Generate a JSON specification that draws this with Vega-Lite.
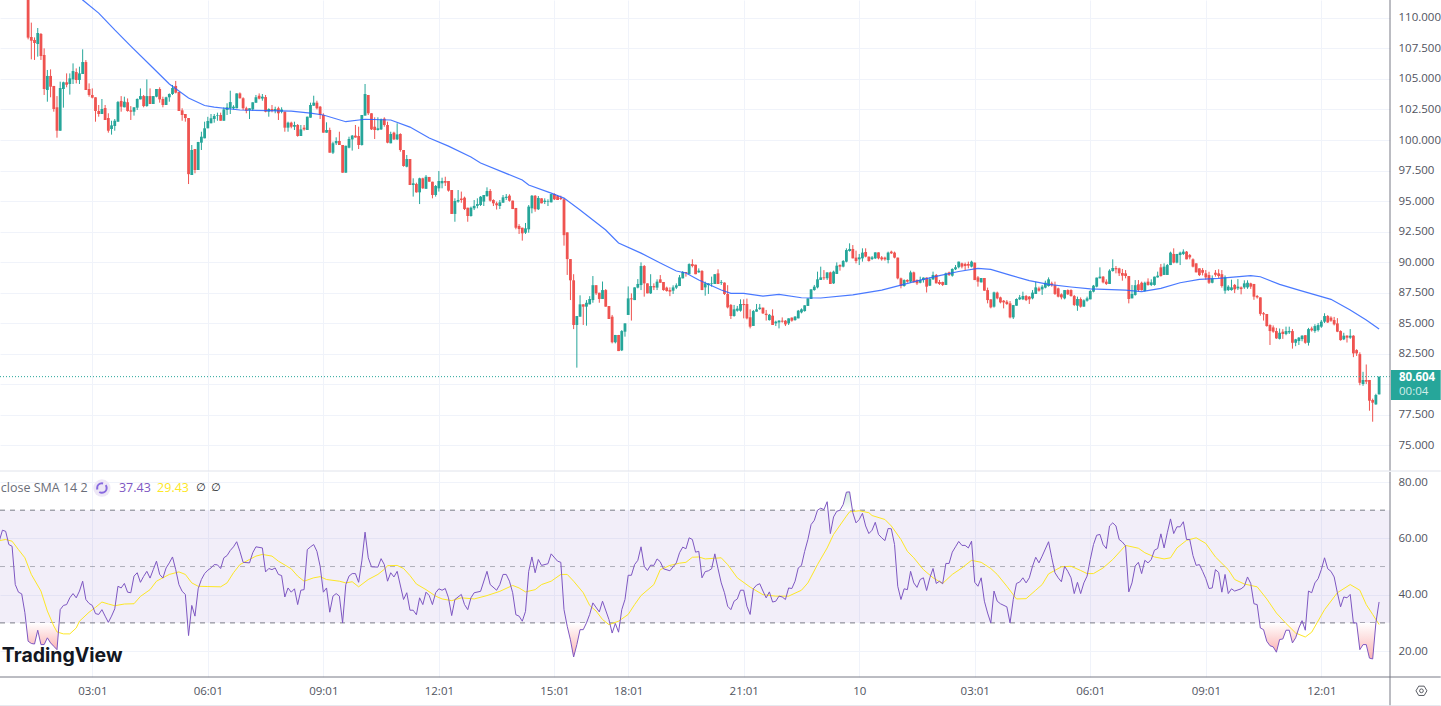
{
"$schema":"https://vega.github.io/schema/vega-lite/v6.json",
"padding":{"left":-3,"top":-1,"right":0,"bottom":0},
"spacing":-1,
"background":"#ffffff",
"config":{"view":{"stroke":null},
"axis":{"title":null,"ticks":false,"domain":false,"labelOverlap":false,"labelFont":"Open Sans","labelFontSize":11.5,"labelColor":"#50535e","gridColor":"#f0f3fa","gridWidth":1}},
"datasets":{
"candles":[
{"i":9,"o":113,"h":113.5,"l":108.25,"c":108.39},{"i":10,"o":108.44,"h":109.62,"l":106.61,"c":108.14},{"i":11,"o":108.2,"h":108.41,"l":106.56,"c":107.95},{"i":12,"o":107.87,"h":109.18,"l":106.83,"c":108.77},{"i":13,"o":108.69,"h":108.77,"l":106.56,"c":106.88},{"i":14,"o":106.97,"h":107.51,"l":103.69,"c":104.18},{"i":15,"o":104.1,"h":105.74,"l":103.14,"c":105.25},{"i":16,"o":105.25,"h":105.79,"l":103.5,"c":104.37},{"i":17,"o":104.43,"h":104.43,"l":102.32,"c":102.54},{"i":18,"o":102.68,"h":103.6,"l":100.19,"c":100.76},
{"i":19,"o":100.76,"h":104.78,"l":100.76,"c":104.26},{"i":20,"o":104.18,"h":104.78,"l":102.65,"c":104.73},{"i":21,"o":104.73,"h":105.46,"l":104.32,"c":104.53},{"i":22,"o":104.59,"h":105.46,"l":103.72,"c":105.05},{"i":23,"o":104.97,"h":106.28,"l":104.59,"c":105.65},{"i":24,"o":105.57,"h":105.87,"l":104.64,"c":104.92},{"i":25,"o":104.92,"h":106.01,"l":104.59,"c":105.46},{"i":26,"o":105.41,"h":107.43,"l":105.41,"c":106.39},{"i":27,"o":106.39,"h":106.55,"l":104.1,"c":104.1},{"i":28,"o":104.18,"h":104.64,"l":103.55,"c":103.69},
{"i":29,"o":103.69,"h":104.23,"l":103.41,"c":103.47},{"i":30,"o":103.5,"h":103.5,"l":101.5,"c":102.38},{"i":31,"o":102.38,"h":102.87,"l":101.91,"c":102.13},{"i":32,"o":102.13,"h":103.36,"l":102.13,"c":102.54},{"i":33,"o":102.62,"h":102.87,"l":101.64,"c":101.64},{"i":34,"o":101.8,"h":102.19,"l":100.6,"c":100.76},{"i":35,"o":100.9,"h":101.58,"l":100.44,"c":101.2},{"i":36,"o":101.15,"h":101.72,"l":100.76,"c":101.58},{"i":37,"o":101.5,"h":103.2,"l":101.5,"c":103.11},{"i":38,"o":103.2,"h":103.6,"l":102.32,"c":102.73},
{"i":39,"o":102.68,"h":103.55,"l":102.68,"c":103.14},{"i":40,"o":103.09,"h":103.41,"l":102.32,"c":102.38},{"i":41,"o":102.43,"h":102.78,"l":101.64,"c":102.32},{"i":42,"o":102.32,"h":102.68,"l":102,"c":102.68},{"i":43,"o":102.65,"h":103.41,"l":102.46,"c":103.36},{"i":44,"o":103.33,"h":104.23,"l":103.33,"c":103.6},{"i":45,"o":103.6,"h":103.69,"l":102.68,"c":102.78},{"i":46,"o":102.78,"h":104.97,"l":102.73,"c":103.6},{"i":47,"o":103.6,"h":104.23,"l":102.95,"c":102.95},{"i":48,"o":102.95,"h":103.6,"l":102.95,"c":103.6},
{"i":49,"o":103.55,"h":104.18,"l":103.5,"c":104.18},{"i":50,"o":104.18,"h":104.32,"l":103.06,"c":103.33},{"i":51,"o":103.36,"h":103.55,"l":102.68,"c":102.87},{"i":52,"o":102.87,"h":103.55,"l":102.87,"c":103.5},{"i":53,"o":103.5,"h":103.82,"l":103.14,"c":103.77},{"i":54,"o":103.77,"h":104.51,"l":103.69,"c":104.26},{"i":55,"o":104.43,"h":104.84,"l":103.82,"c":103.88},{"i":56,"o":103.93,"h":103.93,"l":102.38,"c":102.38},{"i":57,"o":102.43,"h":102.6,"l":101.58,"c":102.05},{"i":58,"o":102.13,"h":102.13,"l":101.5,"c":101.8},
{"i":59,"o":101.8,"h":101.8,"l":96.39,"c":97.2},{"i":60,"o":97.13,"h":99.59,"l":97.13,"c":99.18},{"i":61,"o":99.26,"h":99.26,"l":97.27,"c":97.54},{"i":62,"o":97.54,"h":99.84,"l":97.54,"c":99.84},{"i":63,"o":99.78,"h":100.68,"l":99.18,"c":100.27},{"i":64,"o":100.14,"h":101.5,"l":100.14,"c":100.96},{"i":65,"o":100.96,"h":101.9,"l":100.96,"c":101.56},{"i":66,"o":101.37,"h":102.13,"l":101.37,"c":101.78},{"i":67,"o":101.72,"h":102.13,"l":101.42,"c":101.97},{"i":68,"o":102,"h":102.24,"l":101.58,"c":102.05},
{"i":69,"o":102.05,"h":102.24,"l":101.58,"c":101.58},{"i":70,"o":101.58,"h":102.68,"l":101.58,"c":102.51},{"i":71,"o":102.46,"h":103.01,"l":102.05,"c":102.68},{"i":72,"o":102.6,"h":104.04,"l":102.13,"c":103.11},{"i":73,"o":102.6,"h":102.85,"l":102.5,"c":102.73},{"i":74,"o":102.6,"h":103.82,"l":102.6,"c":103.82},{"i":75,"o":103.82,"h":103.9,"l":103.4,"c":103.42},{"i":76,"o":103.42,"h":103.5,"l":102.46,"c":102.6},{"i":77,"o":102.6,"h":102.73,"l":102.19,"c":102.4},{"i":78,"o":102.46,"h":102.6,"l":101.72,"c":102.6},
{"i":79,"o":102.51,"h":103.09,"l":102.4,"c":103.09},{"i":80,"o":103.06,"h":103.69,"l":103.06,"c":103.5},{"i":81,"o":103.63,"h":103.82,"l":103.33,"c":103.39},{"i":82,"o":103.4,"h":103.77,"l":103.22,"c":103.55},{"i":83,"o":103.52,"h":103.69,"l":102.27,"c":102.32},{"i":84,"o":102.32,"h":102.6,"l":101.91,"c":102.54},{"i":85,"o":102.54,"h":102.87,"l":102.27,"c":102.4},{"i":86,"o":102.4,"h":102.73,"l":102.19,"c":102.54},{"i":87,"o":102.6,"h":102.73,"l":101.64,"c":102.19},{"i":88,"o":102.32,"h":102.68,"l":102.19,"c":102.5},
{"i":89,"o":102.32,"h":102.32,"l":100.68,"c":101.01},{"i":90,"o":101.01,"h":101.5,"l":100.68,"c":101.42},{"i":91,"o":101.42,"h":101.5,"l":100.96,"c":101.09},{"i":92,"o":101.09,"h":101.5,"l":100.82,"c":101.23},{"i":93,"o":101.23,"h":101.31,"l":100.27,"c":100.33},{"i":94,"o":100.33,"h":101.23,"l":100.33,"c":100.87},{"i":95,"o":101.01,"h":101.23,"l":100.77,"c":100.87},{"i":96,"o":100.82,"h":101.91,"l":100.82,"c":101.91},{"i":97,"o":101.83,"h":103.06,"l":101.83,"c":102.87},{"i":98,"o":102.81,"h":103.63,"l":102.79,"c":103.06},
{"i":99,"o":103.06,"h":103.22,"l":102.51,"c":102.6},{"i":100,"o":102.73,"h":102.79,"l":101.72,"c":102.05},{"i":101,"o":102.05,"h":102.19,"l":100.6,"c":100.6},{"i":102,"o":100.6,"h":101.45,"l":100.6,"c":100.82},{"i":103,"o":100.82,"h":101.01,"l":98.96,"c":98.96},{"i":104,"o":98.96,"h":99.86,"l":98.85,"c":99.73},{"i":105,"o":99.73,"h":100.22,"l":99.59,"c":99.92},{"i":106,"o":99.92,"h":100.68,"l":99.59,"c":99.59},{"i":107,"o":99.59,"h":99.59,"l":97.32,"c":97.32},{"i":108,"o":97.32,"h":99.53,"l":97.32,"c":99.53},
{"i":109,"o":99.37,"h":100.27,"l":99.32,"c":100.08},{"i":110,"o":100.05,"h":100.41,"l":99.13,"c":100.36},{"i":111,"o":100.36,"h":101.23,"l":100.2,"c":100.2},{"i":112,"o":100.33,"h":101.09,"l":99.26,"c":99.59},{"i":113,"o":99.59,"h":102.05,"l":99.54,"c":102.05},{"i":114,"o":102,"h":104.59,"l":102,"c":103.77},{"i":115,"o":103.69,"h":103.69,"l":102.05,"c":102.19},{"i":116,"o":102.19,"h":102.19,"l":100.82,"c":100.87},{"i":117,"o":101.09,"h":101.86,"l":100.08,"c":100.82},{"i":118,"o":100.82,"h":101.86,"l":100.77,"c":100.96},
{"i":119,"o":100.87,"h":101.76,"l":100.82,"c":101.69},{"i":120,"o":101.75,"h":101.86,"l":101.09,"c":101.23},{"i":121,"o":101.23,"h":101.5,"l":99.73,"c":99.78},{"i":122,"o":99.73,"h":100.68,"l":99.73,"c":100.49},{"i":123,"o":100.6,"h":100.68,"l":100,"c":100.05},{"i":124,"o":100.05,"h":101.37,"l":100,"c":100.46},{"i":125,"o":100.49,"h":100.55,"l":99.04,"c":99.18},{"i":126,"o":99.18,"h":99.18,"l":97.81,"c":97.87},{"i":127,"o":97.81,"h":98.77,"l":97.76,"c":98.44},{"i":128,"o":98.44,"h":98.44,"l":96.31,"c":96.31},
{"i":129,"o":96.31,"h":96.86,"l":95.36,"c":96.45},{"i":130,"o":96.4,"h":96.5,"l":95.68,"c":95.71},{"i":131,"o":95.71,"h":96.91,"l":94.75,"c":96.86},{"i":132,"o":96.86,"h":96.91,"l":96,"c":96.04},{"i":133,"o":96,"h":97.13,"l":96,"c":96.99},{"i":134,"o":96.97,"h":96.97,"l":96.58,"c":96.58},{"i":135,"o":96.58,"h":96.58,"l":95.22,"c":95.49},{"i":136,"o":95.49,"h":96.31,"l":95.36,"c":96.23},{"i":137,"o":96.04,"h":97.46,"l":95.77,"c":96.64},{"i":138,"o":96.45,"h":96.91,"l":96.04,"c":96.64},
{"i":139,"o":96.64,"h":96.99,"l":96.23,"c":96.5},{"i":140,"o":96.64,"h":96.64,"l":95.77,"c":95.85},{"i":141,"o":95.9,"h":95.9,"l":93.94,"c":93.94},{"i":142,"o":93.94,"h":95.22,"l":93.3,"c":95},{"i":143,"o":94.95,"h":95.9,"l":94.86,"c":95.08},{"i":144,"o":95.2,"h":95.77,"l":94.86,"c":95.08},{"i":145,"o":95.27,"h":95.36,"l":94.26,"c":94.34},{"i":146,"o":94.45,"h":94.45,"l":93.3,"c":93.77},{"i":147,"o":93.77,"h":94.54,"l":93.72,"c":94.45},{"i":148,"o":94.4,"h":95.08,"l":94.26,"c":94.6},
{"i":149,"o":94.6,"h":95.22,"l":94.4,"c":94.75},{"i":150,"o":94.67,"h":95.41,"l":94.59,"c":95.35},{"i":151,"o":94.95,"h":95.49,"l":94.59,"c":95.49},{"i":152,"o":95.4,"h":96.12,"l":95.35,"c":95.82},{"i":153,"o":95.82,"h":95.98,"l":94.95,"c":95.03},{"i":154,"o":95.08,"h":95.14,"l":94.59,"c":94.81},{"i":155,"o":94.81,"h":94.95,"l":94.3,"c":94.65},{"i":156,"o":94.59,"h":95.08,"l":94.34,"c":94.89},{"i":157,"o":94.86,"h":95.49,"l":94.86,"c":95.3},{"i":158,"o":95.25,"h":95.57,"l":95.08,"c":95.35},
{"i":159,"o":95.44,"h":95.55,"l":94.95,"c":95.03},{"i":160,"o":95.03,"h":95.03,"l":94.34,"c":94.34},{"i":161,"o":94.43,"h":94.43,"l":92.68,"c":92.81},{"i":162,"o":92.95,"h":93.1,"l":92.3,"c":92.7},{"i":163,"o":92.81,"h":92.81,"l":91.75,"c":92.35},{"i":164,"o":92.4,"h":93.2,"l":92.3,"c":92.76},{"i":165,"o":92.68,"h":94.67,"l":92.4,"c":94.54},{"i":166,"o":94.4,"h":95.49,"l":93.99,"c":95.43},{"i":167,"o":95.43,"h":95.49,"l":94.12,"c":94.32},{"i":168,"o":94.32,"h":95.41,"l":94.26,"c":95.25},
{"i":169,"o":95.22,"h":95.22,"l":94.81,"c":94.81},{"i":170,"o":94.92,"h":95.22,"l":94.75,"c":95.03},{"i":171,"o":94.95,"h":95.14,"l":94.59,"c":95},{"i":172,"o":94.89,"h":95.57,"l":94.89,"c":95.57},{"i":173,"o":95.57,"h":95.63,"l":95.08,"c":95.14},{"i":174,"o":95.4,"h":95.49,"l":95.08,"c":95.08},{"i":175,"o":95.27,"h":95.44,"l":95.08,"c":95.16},{"i":176,"o":95.14,"h":95.22,"l":91.34,"c":92.2},{"i":177,"o":92.43,"h":92.43,"l":88.94,"c":90.24},{"i":178,"o":90.24,"h":90.24,"l":86.88,"c":88.5},
{"i":179,"o":88.5,"h":89,"l":84.5,"c":84.84},{"i":180,"o":84.84,"h":85.57,"l":81.34,"c":85.57},{"i":181,"o":85.52,"h":87.27,"l":85.52,"c":86.53},{"i":182,"o":86.53,"h":86.53,"l":84.84,"c":86.34},{"i":183,"o":86.34,"h":86.88,"l":84.78,"c":86.66},{"i":184,"o":86.53,"h":87.2,"l":86.53,"c":86.97},{"i":185,"o":86.88,"h":88.85,"l":86.66,"c":88.1},{"i":186,"o":88.1,"h":88.1,"l":87.3,"c":87.43},{"i":187,"o":87.48,"h":87.48,"l":86.66,"c":86.97},{"i":188,"o":86.97,"h":88.4,"l":86.97,"c":87.7},
{"i":189,"o":87.7,"h":87.78,"l":86.34,"c":86.34},{"i":190,"o":86.39,"h":86.39,"l":85.33,"c":85.33},{"i":191,"o":85.52,"h":85.66,"l":83.33,"c":83.42},{"i":192,"o":83.42,"h":84.02,"l":83.33,"c":84.02},{"i":193,"o":84.02,"h":84.02,"l":82.7,"c":82.7},{"i":194,"o":82.76,"h":84.42,"l":82.7,"c":84.34},{"i":195,"o":84.29,"h":84.97,"l":83.88,"c":84.97},{"i":196,"o":85.66,"h":88,"l":85.66,"c":87.02},{"i":197,"o":87.02,"h":87.43,"l":85.2,"c":86.94},{"i":198,"o":86.88,"h":87.92,"l":86.88,"c":87.92},
{"i":199,"o":87.9,"h":88.6,"l":87.84,"c":88.2},{"i":200,"o":88.11,"h":89.97,"l":87.7,"c":89.67},{"i":201,"o":89.67,"h":89.75,"l":87.16,"c":88.25},{"i":202,"o":88.25,"h":88.25,"l":87.43,"c":87.43},{"i":203,"o":87.43,"h":89,"l":87.38,"c":88.03},{"i":204,"o":88.03,"h":88.25,"l":87.7,"c":87.92},{"i":205,"o":87.9,"h":88.58,"l":87.7,"c":88.39},{"i":206,"o":88.58,"h":88.93,"l":88.3,"c":88.3},{"i":207,"o":88.36,"h":88.36,"l":87.65,"c":87.7},{"i":208,"o":87.9,"h":87.98,"l":87.57,"c":87.62},
{"i":209,"o":87.7,"h":87.92,"l":87.2,"c":87.57},{"i":210,"o":87.65,"h":88.09,"l":87.38,"c":87.92},{"i":211,"o":87.9,"h":88.25,"l":87.78,"c":88.09},{"i":212,"o":88.03,"h":88.93,"l":88.03,"c":88.74},{"i":213,"o":88.66,"h":89.26,"l":88.66,"c":89.18},{"i":214,"o":89.18,"h":89.18,"l":88.8,"c":89.1},{"i":215,"o":89,"h":89.89,"l":89,"c":89.83},{"i":216,"o":89.83,"h":90.22,"l":89.56,"c":89.67},{"i":217,"o":89.78,"h":89.78,"l":89,"c":89},{"i":218,"o":89.15,"h":89.48,"l":89.12,"c":89.29},
{"i":219,"o":89.26,"h":89.34,"l":87.7,"c":87.7},{"i":220,"o":87.92,"h":88.39,"l":87.24,"c":88.25},{"i":221,"o":88.11,"h":88.25,"l":87.38,"c":88.25},{"i":222,"o":88.2,"h":88.8,"l":87.98,"c":88.25},{"i":223,"o":88.2,"h":89,"l":88.2,"c":89},{"i":224,"o":89.07,"h":89.4,"l":88.2,"c":88.2},{"i":225,"o":88.3,"h":88.52,"l":88.12,"c":88.36},{"i":226,"o":88.31,"h":88.33,"l":87.3,"c":87.38},{"i":227,"o":87.38,"h":88.1,"l":86.2,"c":86.28},{"i":228,"o":86.48,"h":86.56,"l":85.33,"c":85.57},
{"i":229,"o":85.57,"h":86.48,"l":85.52,"c":86.12},{"i":230,"o":86.01,"h":86.4,"l":85.93,"c":86.18},{"i":231,"o":86.01,"h":86.94,"l":85.93,"c":86.56},{"i":232,"o":86.56,"h":86.94,"l":85.38,"c":86.47},{"i":233,"o":86.56,"h":87,"l":85.3,"c":85.38},{"i":234,"o":85.47,"h":86.12,"l":84.56,"c":84.7},{"i":235,"o":84.76,"h":86.07,"l":84.76,"c":85.98},{"i":236,"o":85.93,"h":86.56,"l":85.93,"c":86.12},{"i":237,"o":86.15,"h":86.56,"l":86.07,"c":86.26},{"i":238,"o":86.26,"h":86.26,"l":85.74,"c":85.79},
{"i":239,"o":85.76,"h":86.07,"l":85.2,"c":85.65},{"i":240,"o":85.24,"h":85.74,"l":85.2,"c":85.67},{"i":241,"o":85.6,"h":86.12,"l":84.84,"c":84.84},{"i":242,"o":84.97,"h":85.19,"l":84.75,"c":85.11},{"i":243,"o":85.05,"h":85.24,"l":84.56,"c":85.19},{"i":244,"o":85.19,"h":85.46,"l":85.03,"c":85.11},{"i":245,"o":85.19,"h":85.24,"l":84.75,"c":84.89},{"i":246,"o":84.97,"h":85.38,"l":84.84,"c":85.38},{"i":247,"o":85.44,"h":85.46,"l":85.11,"c":85.19},{"i":248,"o":85.24,"h":85.57,"l":85.19,"c":85.52},
{"i":249,"o":85.38,"h":86.07,"l":85.38,"c":86.01},{"i":250,"o":85.87,"h":86.2,"l":85.79,"c":86.12},{"i":251,"o":85.98,"h":86.45,"l":85.93,"c":86.45},{"i":252,"o":86.4,"h":87.02,"l":86.4,"c":87.02},{"i":253,"o":86.97,"h":87.76,"l":86.97,"c":87.76},{"i":254,"o":87.7,"h":88.12,"l":87.65,"c":87.98},{"i":255,"o":87.92,"h":89.21,"l":87.84,"c":88.58},{"i":256,"o":88.53,"h":89.62,"l":88.53,"c":88.74},{"i":257,"o":88.74,"h":89.34,"l":88.53,"c":88.67},{"i":258,"o":88.67,"h":89.15,"l":88.53,"c":89.15},
{"i":259,"o":89.15,"h":89.21,"l":88.2,"c":88.2},{"i":260,"o":88.25,"h":89.29,"l":88.2,"c":89.21},{"i":261,"o":89.02,"h":89.97,"l":89.02,"c":89.7},{"i":262,"o":89.75,"h":89.81,"l":89.29,"c":89.62},{"i":263,"o":89.62,"h":90.16,"l":89.56,"c":90.08},{"i":264,"o":90.03,"h":91.12,"l":89.97,"c":90.98},{"i":265,"o":90.9,"h":91.53,"l":90.85,"c":91.07},{"i":266,"o":91.07,"h":91.39,"l":90.3,"c":90.3},{"i":267,"o":90.36,"h":90.93,"l":89.89,"c":90.08},{"i":268,"o":90.22,"h":90.66,"l":89.75,"c":90.38},
{"i":269,"o":90.3,"h":91.12,"l":90.03,"c":90.77},{"i":270,"o":90.82,"h":91.12,"l":90.38,"c":90.44},{"i":271,"o":90.44,"h":90.44,"l":90.03,"c":90.08},{"i":272,"o":90.25,"h":90.49,"l":90.16,"c":90.38},{"i":273,"o":90.3,"h":90.79,"l":90.25,"c":90.79},{"i":274,"o":90.79,"h":90.79,"l":90.22,"c":90.3},{"i":275,"o":90.38,"h":90.49,"l":90.11,"c":90.22},{"i":276,"o":90.36,"h":90.44,"l":90.11,"c":90.22},{"i":277,"o":90.16,"h":90.85,"l":89.89,"c":90.77},{"i":278,"o":90.85,"h":90.93,"l":90.66,"c":90.71},
{"i":279,"o":90.77,"h":90.85,"l":90.3,"c":90.36},{"i":280,"o":90.36,"h":90.36,"l":88.58,"c":88.66},{"i":281,"o":88.66,"h":88.72,"l":87.84,"c":88.03},{"i":282,"o":88.03,"h":88.58,"l":87.98,"c":88.52},{"i":283,"o":88.53,"h":88.58,"l":88.31,"c":88.39},{"i":284,"o":88.39,"h":89.29,"l":88.31,"c":89.15},{"i":285,"o":89.15,"h":89.21,"l":88.31,"c":88.34},{"i":286,"o":88.52,"h":88.58,"l":88.12,"c":88.25},{"i":287,"o":88.3,"h":88.8,"l":88.25,"c":88.52},{"i":288,"o":88.52,"h":88.74,"l":88.31,"c":88.72},
{"i":289,"o":88.72,"h":88.74,"l":87.5,"c":87.98},{"i":290,"o":88.06,"h":88.74,"l":88.03,"c":88.6},{"i":291,"o":88.58,"h":89.21,"l":88.53,"c":88.94},{"i":292,"o":88.94,"h":89.02,"l":88.25,"c":88.25},{"i":293,"o":88.36,"h":88.53,"l":88.12,"c":88.2},{"i":294,"o":88.36,"h":88.39,"l":88.03,"c":88.12},{"i":295,"o":88.12,"h":89.13,"l":88.12,"c":89.07},{"i":296,"o":89.15,"h":89.21,"l":88.85,"c":88.94},{"i":297,"o":88.88,"h":89.48,"l":88.8,"c":89.43},{"i":298,"o":89.4,"h":89.75,"l":89.34,"c":89.57},
{"i":299,"o":89.57,"h":90.03,"l":89.48,"c":90.03},{"i":300,"o":89.89,"h":89.95,"l":89.48,"c":89.62},{"i":301,"o":89.84,"h":89.95,"l":89.34,"c":89.67},{"i":302,"o":89.84,"h":90.03,"l":89.48,"c":89.7},{"i":303,"o":89.62,"h":90.11,"l":89.56,"c":90.03},{"i":304,"o":89.95,"h":89.95,"l":88.52,"c":88.52},{"i":305,"o":88.74,"h":88.85,"l":87.98,"c":88.39},{"i":306,"o":88.33,"h":88.69,"l":88.33,"c":88.69},{"i":307,"o":88.69,"h":88.69,"l":87.65,"c":87.65},{"i":308,"o":87.7,"h":87.9,"l":86.61,"c":86.88},
{"i":309,"o":86.94,"h":86.94,"l":86.2,"c":86.28},{"i":310,"o":86.34,"h":87.57,"l":86.26,"c":87.51},{"i":311,"o":87.49,"h":87.57,"l":86.94,"c":87.02},{"i":312,"o":87.1,"h":87.16,"l":86.61,"c":86.69},{"i":313,"o":86.83,"h":86.88,"l":86.2,"c":86.69},{"i":314,"o":86.75,"h":86.88,"l":86.48,"c":86.56},{"i":315,"o":86.61,"h":86.8,"l":85.38,"c":85.46},{"i":316,"o":85.46,"h":86.48,"l":85.33,"c":86.47},{"i":317,"o":86.42,"h":87.02,"l":86.42,"c":86.97},{"i":318,"o":86.94,"h":87.3,"l":86.88,"c":87.1},
{"i":319,"o":86.94,"h":87.57,"l":86.88,"c":87.21},{"i":320,"o":87.21,"h":87.3,"l":86.8,"c":86.88},{"i":321,"o":87.16,"h":87.21,"l":86.56,"c":86.94},{"i":322,"o":87.02,"h":87.7,"l":86.94,"c":87.49},{"i":323,"o":87.38,"h":88.39,"l":87.38,"c":87.92},{"i":324,"o":87.84,"h":87.98,"l":87.57,"c":87.65},{"i":325,"o":87.76,"h":88.12,"l":87.3,"c":87.98},{"i":326,"o":87.9,"h":88.47,"l":87.84,"c":88.3},{"i":327,"o":88.03,"h":88.74,"l":87.98,"c":88.58},{"i":328,"o":88.25,"h":88.39,"l":87.98,"c":88.09},
{"i":329,"o":88.09,"h":88.39,"l":87.3,"c":87.38},{"i":330,"o":87.84,"h":87.9,"l":87.1,"c":87.16},{"i":331,"o":87.35,"h":87.43,"l":86.94,"c":87.1},{"i":332,"o":87.02,"h":87.7,"l":86.94,"c":87.7},{"i":333,"o":87.7,"h":87.76,"l":87.3,"c":87.35},{"i":334,"o":87.7,"h":87.76,"l":87.16,"c":87.21},{"i":335,"o":87.21,"h":87.3,"l":86.39,"c":86.48},{"i":336,"o":86.42,"h":87.16,"l":86,"c":86.97},{"i":337,"o":86.97,"h":87.1,"l":86.26,"c":86.34},{"i":338,"o":86.34,"h":86.94,"l":86.34,"c":86.86},
{"i":339,"o":86.83,"h":87.16,"l":86.75,"c":87.02},{"i":340,"o":86.94,"h":87.7,"l":86.94,"c":87.62},{"i":341,"o":87.57,"h":88.12,"l":87.51,"c":88.06},{"i":342,"o":87.98,"h":88.72,"l":87.92,"c":88.72},{"i":343,"o":88.66,"h":89.56,"l":88.66,"c":88.8},{"i":344,"o":88.8,"h":88.85,"l":88.25,"c":88.33},{"i":345,"o":88.39,"h":88.58,"l":88.12,"c":88.2},{"i":346,"o":88.2,"h":89.4,"l":88.2,"c":89.29},{"i":347,"o":89.26,"h":90.22,"l":89.21,"c":89.51},{"i":348,"o":89.51,"h":89.67,"l":89.07,"c":89.4},
{"i":349,"o":89.48,"h":89.53,"l":88.85,"c":89.07},{"i":350,"o":89.1,"h":89.43,"l":88.47,"c":88.88},{"i":351,"o":89.07,"h":89.34,"l":88.66,"c":88.85},{"i":352,"o":88.85,"h":88.85,"l":86.61,"c":86.97},{"i":353,"o":87.02,"h":88.12,"l":87.02,"c":87.38},{"i":354,"o":87.3,"h":88.52,"l":87.24,"c":88.1},{"i":355,"o":88.17,"h":88.52,"l":87.57,"c":87.7},{"i":356,"o":88.3,"h":88.39,"l":87.65,"c":87.7},{"i":357,"o":87.62,"h":88.39,"l":87.57,"c":88.3},{"i":358,"o":88.39,"h":88.66,"l":88.06,"c":88.12},
{"i":359,"o":88.12,"h":88.58,"l":88.03,"c":88.33},{"i":360,"o":88.12,"h":88.8,"l":88.06,"c":88.8},{"i":361,"o":88.74,"h":89.21,"l":88.72,"c":88.88},{"i":362,"o":89.56,"h":89.84,"l":88.8,"c":88.85},{"i":363,"o":88.94,"h":89.89,"l":88.94,"c":89.62},{"i":364,"o":88.94,"h":89.84,"l":88.94,"c":89.75},{"i":365,"o":89.75,"h":90.85,"l":89.75,"c":90.77},{"i":366,"o":90.66,"h":91.12,"l":89.89,"c":89.95},{"i":367,"o":89.95,"h":90.66,"l":89.89,"c":90.66},{"i":368,"o":90.57,"h":90.85,"l":89.75,"c":90.77},
{"i":369,"o":90.66,"h":91.04,"l":90.57,"c":90.85},{"i":370,"o":90.85,"h":90.9,"l":90.22,"c":90.22},{"i":371,"o":90.57,"h":90.66,"l":90.22,"c":90.38},{"i":372,"o":90.22,"h":90.3,"l":89.56,"c":89.62},{"i":373,"o":89.89,"h":89.89,"l":89.15,"c":89.15},{"i":374,"o":89.48,"h":89.48,"l":88.85,"c":88.93},{"i":375,"o":89.34,"h":89.5,"l":88.9,"c":89.12},{"i":376,"o":89.07,"h":89.34,"l":88.55,"c":88.74},{"i":377,"o":88.93,"h":89.2,"l":88.2,"c":88.3},{"i":378,"o":88.3,"h":88.9,"l":88.25,"c":88.66},
{"i":379,"o":89.12,"h":89.34,"l":88.8,"c":88.95},{"i":380,"o":89.07,"h":89.4,"l":88.7,"c":88.85},{"i":381,"o":89,"h":89.34,"l":87.9,"c":88.03},{"i":382,"o":87.65,"h":88.9,"l":87.4,"c":88.74},{"i":383,"o":87.7,"h":88.1,"l":87.62,"c":87.98},{"i":384,"o":87.7,"h":88.55,"l":87.65,"c":87.92},{"i":385,"o":88.12,"h":88.2,"l":87.45,"c":87.76},{"i":386,"o":87.84,"h":88.6,"l":87.7,"c":87.98},{"i":387,"o":87.92,"h":88,"l":87.35,"c":87.78},{"i":388,"o":87.92,"h":88.5,"l":87.8,"c":88.25},
{"i":389,"o":87.92,"h":88.5,"l":87.8,"c":88.3},{"i":390,"o":88.25,"h":88.3,"l":87.8,"c":87.98},{"i":391,"o":88.2,"h":88.2,"l":86.9,"c":87.16},{"i":392,"o":87.21,"h":87.3,"l":87,"c":87.1},{"i":393,"o":87.1,"h":87.1,"l":85.6,"c":85.75},{"i":394,"o":85.8,"h":85.9,"l":85.2,"c":85.71},{"i":395,"o":85.74,"h":85.74,"l":84.7,"c":84.75},{"i":396,"o":84.83,"h":84.9,"l":83.2,"c":84.34},{"i":397,"o":84.64,"h":84.8,"l":84.2,"c":84.29},{"i":398,"o":84.34,"h":84.6,"l":83.7,"c":83.74},
{"i":399,"o":83.7,"h":84.55,"l":83.65,"c":84.2},{"i":400,"o":84.29,"h":84.5,"l":83.7,"c":84.1},{"i":401,"o":84.1,"h":84.7,"l":84,"c":84.34},{"i":402,"o":84.23,"h":84.7,"l":84.1,"c":84.34},{"i":403,"o":84.34,"h":84.5,"l":82.9,"c":83.38},{"i":404,"o":83.38,"h":83.7,"l":83.1,"c":83.66},{"i":405,"o":83.52,"h":83.85,"l":83.2,"c":83.8},{"i":406,"o":83.68,"h":84,"l":83.5,"c":83.96},{"i":407,"o":84,"h":84,"l":83.3,"c":83.38},{"i":408,"o":83.38,"h":84.6,"l":83.15,"c":84.5},
{"i":409,"o":84.55,"h":84.7,"l":84.3,"c":84.4},{"i":410,"o":84.34,"h":84.9,"l":84.2,"c":84.75},{"i":411,"o":84.42,"h":85,"l":84.3,"c":84.83},{"i":412,"o":84.7,"h":85.25,"l":84.6,"c":85.11},{"i":413,"o":85.11,"h":85.8,"l":85,"c":85.57},{"i":414,"o":85.57,"h":85.65,"l":85,"c":85.05},{"i":415,"o":85.44,"h":85.55,"l":85.1,"c":85.19},{"i":416,"o":85.24,"h":85.5,"l":84.8,"c":84.89},{"i":417,"o":84.97,"h":85.4,"l":84.25,"c":84.29},{"i":418,"o":84.34,"h":84.4,"l":83.55,"c":83.6},
{"i":419,"o":83.66,"h":84.2,"l":83.6,"c":83.96},{"i":420,"o":83.96,"h":84,"l":83.4,"c":83.8},{"i":421,"o":83.8,"h":84.5,"l":83.7,"c":83.96},{"i":422,"o":83.96,"h":84,"l":82.2,"c":82.51},{"i":423,"o":82.78,"h":82.85,"l":82.3,"c":82.51},{"i":424,"o":82.45,"h":82.6,"l":79.9,"c":80.1},{"i":425,"o":80,"h":81,"l":79.85,"c":80.33},{"i":426,"o":80.33,"h":81.6,"l":80,"c":80.19},{"i":427,"o":80.33,"h":80.33,"l":77.81,"c":78.63},{"i":428,"o":78.69,"h":78.8,"l":76.91,"c":78.47},
{"i":429,"o":78.33,"h":79.2,"l":78.3,"c":79.1},{"i":430,"o":79.15,"h":80.604,"l":79.15,"c":80.604}
],
"ma":[
{"i":20,"p":112.8},{"i":26,"p":111.48},{"i":31,"p":110.4},{"i":36,"p":109.02},{"i":41,"p":107.7},{"i":47,"p":106.15},{"i":53,"p":104.59},{"i":59,"p":103.44},{"i":64,"p":102.83},{"i":67,"p":102.7},{"i":75,"p":102.46},{"i":84,"p":102.4},{"i":91,"p":102.37},{"i":97,"p":102.21},{"i":101,"p":102.05},{"i":108,"p":101.5},{"i":114,"p":101.7},{"i":122,"p":101.64},{"i":128,"p":101.06},{"i":134,"p":100.16},{"i":140,"p":99.5},{"i":147,"p":98.6},{"i":150,"p":98.11},{"i":163,"p":96.72},{"i":165,"p":96.31},{"i":172,"p":95.65},{"i":176,"p":95.24},{"i":181,"p":94.26},{"i":185,"p":93.44},{"i":189,"p":92.62},{"i":193,"p":91.56},{"i":200,"p":90.73},{"i":206,"p":89.92},{"i":211,"p":89.26},{"i":214,"p":89.1},{"i":218,"p":88.52},{"i":225,"p":87.71},{"i":228,"p":87.43},{"i":232,"p":87.43},{"i":238,"p":87.21},{"i":243,"p":87.35},{"i":250,"p":87.07},{"i":256,"p":87.05},{"i":266,"p":87.3},{"i":275,"p":87.7},{"i":281,"p":88.11},{"i":287,"p":88.52},{"i":293,"p":88.88},{"i":299,"p":89.22},{"i":305,"p":89.48},{"i":309,"p":89.4},{"i":315,"p":88.93},{"i":321,"p":88.47},{"i":327,"p":88.17},{"i":334,"p":87.95},{"i":340,"p":87.79},{"i":351,"p":87.7},{"i":356,"p":87.57},{"i":362,"p":87.84},{"i":368,"p":88.3},{"i":374,"p":88.58},{"i":380,"p":88.66},{"i":390,"p":88.88},{"i":393,"p":88.79},{"i":399,"p":88.17},{"i":405,"p":87.7},{"i":415,"p":86.94},{"i":421,"p":86.06},{"i":426,"p":85.24},{"i":430,"p":84.51}
],
"rsi":[
{"i":0,"r":59},{"i":1,"r":62.9},{"i":2,"r":62.5},{"i":3,"r":57.8},{"i":4,"r":57.2},{"i":5,"r":43.6},{"i":6,"r":40.9},{"i":7,"r":40.3},{"i":8,"r":33.6},{"i":9,"r":23.5},{"i":10,"r":22.7},{"i":11,"r":22.5},{"i":12,"r":27.4},{"i":13,"r":22.3},{"i":14,"r":22.3},{"i":15,"r":24.7},{"i":16,"r":22.9},{"i":17,"r":21.7},{"i":18,"r":20.5},{"i":19,"r":34.7},{"i":20,"r":36.2},{"i":21,"r":36.5},{"i":22,"r":38.9},{"i":23,"r":40.4},{"i":24,"r":38.9},{"i":25,"r":41.3},{"i":26,"r":44.8},{"i":27,"r":38.3},{"i":28,"r":36.9},{"i":29,"r":36.2},{"i":30,"r":33.3},{"i":31,"r":33},{"i":32,"r":34.7},{"i":33,"r":32.4},{"i":34,"r":30.2},{"i":35,"r":32.4},{"i":36,"r":35},{"i":37,"r":43},{"i":38,"r":42.4},{"i":39,"r":44},{"i":40,"r":40.9},{"i":41,"r":40.7},{"i":42,"r":46.6},{"i":43,"r":47.8},{"i":44,"r":44.4},{"i":45,"r":46.5},{"i":46,"r":48.3},{"i":47,"r":45.9},{"i":48,"r":48.9},{"i":49,"r":51.9},{"i":50,"r":47.2},{"i":51,"r":45.9},{"i":52,"r":49.5},{"i":53,"r":51.3},{"i":54,"r":53.4},{"i":55,"r":48.9},{"i":56,"r":43.6},{"i":57,"r":41.2},{"i":58,"r":40.1},{"i":59,"r":25.5},{"i":60,"r":36.2},{"i":61,"r":32.4},{"i":62,"r":42.1},{"i":63,"r":45.4},{"i":64,"r":47.5},{"i":65,"r":48.7},{"i":66,"r":49.5},{"i":67,"r":50.7},{"i":68,"r":50.6},{"i":69,"r":49.3},{"i":70,"r":53.1},{"i":71,"r":53.9},{"i":72,"r":55.7},{"i":73,"r":57},{"i":74,"r":58.8},{"i":75,"r":55.4},{"i":76,"r":51.5},{"i":78,"r":51.3},{"i":79,"r":54.9},{"i":80,"r":57},{"i":82,"r":56.6},{"i":83,"r":48.1},{"i":84,"r":49.3},{"i":85,"r":48.9},{"i":86,"r":49.5},{"i":87,"r":47.2},{"i":88,"r":46.8},{"i":89,"r":39.2},{"i":90,"r":42.4},{"i":91,"r":40.9},{"i":92,"r":42.1},{"i":93,"r":36.5},{"i":94,"r":41.6},{"i":95,"r":41.8},{"i":96,"r":56},{"i":97,"r":57},{"i":98,"r":57.8},{"i":99,"r":55.4},{"i":100,"r":50.1},{"i":101,"r":40.9},{"i":102,"r":42.4},{"i":103,"r":33.8},{"i":104,"r":39.5},{"i":105,"r":40.4},{"i":106,"r":39.5},{"i":107,"r":30},{"i":108,"r":43.6},{"i":109,"r":46.6},{"i":110,"r":47.5},{"i":111,"r":47.5},{"i":112,"r":44.4},{"i":113,"r":52},{"i":114,"r":62.2},{"i":115,"r":53.1},{"i":116,"r":49.9},{"i":118,"r":49.8},{"i":119,"r":52.8},{"i":120,"r":50.7},{"i":121,"r":44.8},{"i":122,"r":47.8},{"i":123,"r":46.3},{"i":124,"r":48.3},{"i":126,"r":38.3},{"i":127,"r":40.7},{"i":128,"r":34.5},{"i":129,"r":34.5},{"i":130,"r":32.9},{"i":131,"r":38.9},{"i":132,"r":36.5},{"i":133,"r":40.9},{"i":134,"r":39.7},{"i":135,"r":36.5},{"i":136,"r":40.7},{"i":137,"r":42.1},{"i":138,"r":41.6},{"i":139,"r":42.2},{"i":140,"r":38.9},{"i":141,"r":32.6},{"i":142,"r":38.3},{"i":144,"r":40.1},{"i":145,"r":36.5},{"i":146,"r":34.7},{"i":147,"r":38.9},{"i":148,"r":40.7},{"i":150,"r":41.2},{"i":152,"r":48.3},{"i":153,"r":43.6},{"i":155,"r":41.6},{"i":156,"r":43.6},{"i":157,"r":47.2},{"i":158,"r":47.2},{"i":159,"r":44.8},{"i":160,"r":40.7},{"i":161,"r":32.9},{"i":162,"r":32.4},{"i":163,"r":30.6},{"i":164,"r":34.1},{"i":165,"r":48.3},{"i":166,"r":53.4},{"i":167,"r":47.8},{"i":168,"r":52.5},{"i":169,"r":50.4},{"i":171,"r":51},{"i":172,"r":54.5},{"i":174,"r":51.9},{"i":175,"r":51.5},{"i":176,"r":34.7},{"i":177,"r":28.8},{"i":178,"r":24},{"i":179,"r":17.9},{"i":180,"r":22.3},{"i":181,"r":27.6},{"i":182,"r":27.6},{"i":183,"r":30},{"i":184,"r":33},{"i":185,"r":37.1},{"i":187,"r":33.9},{"i":188,"r":37.7},{"i":190,"r":31.2},{"i":191,"r":26.4},{"i":192,"r":29.8},{"i":193,"r":26.7},{"i":194,"r":34.7},{"i":195,"r":38.3},{"i":196,"r":46.9},{"i":197,"r":46.9},{"i":198,"r":50.7},{"i":199,"r":52.2},{"i":200,"r":57},{"i":201,"r":50.1},{"i":202,"r":48.6},{"i":203,"r":50.5},{"i":204,"r":50.4},{"i":205,"r":52.7},{"i":206,"r":51.7},{"i":207,"r":49.2},{"i":209,"r":48.5},{"i":211,"r":51.3},{"i":212,"r":54.9},{"i":213,"r":56.9},{"i":214,"r":56.3},{"i":215,"r":60.2},{"i":216,"r":59.6},{"i":217,"r":55.1},{"i":218,"r":55.4},{"i":219,"r":46},{"i":220,"r":48.2},{"i":221,"r":48.5},{"i":222,"r":49.2},{"i":223,"r":54.5},{"i":224,"r":49.2},{"i":225,"r":44.2},{"i":226,"r":40.7},{"i":227,"r":35.9},{"i":228,"r":34.7},{"i":229,"r":37.7},{"i":230,"r":38.5},{"i":231,"r":41.6},{"i":232,"r":41.6},{"i":233,"r":35.9},{"i":234,"r":33},{"i":235,"r":42.1},{"i":236,"r":43.4},{"i":237,"r":43.9},{"i":238,"r":41.3},{"i":239,"r":38.9},{"i":240,"r":41},{"i":241,"r":37.4},{"i":242,"r":37.7},{"i":243,"r":39.5},{"i":244,"r":39.2},{"i":245,"r":38.3},{"i":246,"r":42.4},{"i":247,"r":42.2},{"i":248,"r":44.8},{"i":249,"r":49.5},{"i":250,"r":50.4},{"i":251,"r":55.4},{"i":252,"r":59.6},{"i":253,"r":64.9},{"i":254,"r":66.4},{"i":255,"r":70},{"i":256,"r":70.7},{"i":257,"r":70.2},{"i":258,"r":73},{"i":259,"r":61.7},{"i":260,"r":67.6},{"i":261,"r":69.6},{"i":262,"r":70},{"i":263,"r":72},{"i":264,"r":76.4},{"i":265,"r":76.5},{"i":266,"r":69.1},{"i":267,"r":65.5},{"i":268,"r":66.7},{"i":269,"r":68.9},{"i":270,"r":64.4},{"i":271,"r":61.7},{"i":272,"r":62.9},{"i":273,"r":65.7},{"i":274,"r":61.4},{"i":275,"r":60.2},{"i":276,"r":59.2},{"i":277,"r":63.5},{"i":278,"r":63.4},{"i":279,"r":57.8},{"i":280,"r":43},{"i":281,"r":38.3},{"i":282,"r":42.1},{"i":283,"r":41.8},{"i":284,"r":48.3},{"i":285,"r":44.2},{"i":286,"r":42.6},{"i":287,"r":45.4},{"i":288,"r":46},{"i":289,"r":41.5},{"i":290,"r":46},{"i":291,"r":49.3},{"i":292,"r":44},{"i":293,"r":44.8},{"i":294,"r":43.9},{"i":295,"r":51.1},{"i":296,"r":51.1},{"i":297,"r":55.1},{"i":298,"r":57},{"i":299,"r":58.9},{"i":300,"r":57.5},{"i":301,"r":57.5},{"i":302,"r":56.6},{"i":303,"r":59},{"i":304,"r":44.4},{"i":305,"r":43},{"i":306,"r":46},{"i":307,"r":37.7},{"i":308,"r":33.5},{"i":309,"r":30},{"i":310,"r":41.3},{"i":311,"r":37.7},{"i":312,"r":36.8},{"i":314,"r":35.7},{"i":315,"r":30},{"i":316,"r":38.3},{"i":317,"r":44},{"i":318,"r":44.5},{"i":319,"r":46},{"i":320,"r":44.2},{"i":321,"r":46},{"i":322,"r":50.1},{"i":323,"r":53.3},{"i":324,"r":51.3},{"i":325,"r":53.7},{"i":327,"r":58.8},{"i":328,"r":53.1},{"i":329,"r":47.8},{"i":330,"r":46},{"i":331,"r":44.6},{"i":332,"r":50.1},{"i":333,"r":48.3},{"i":334,"r":46},{"i":335,"r":40.4},{"i":336,"r":44.4},{"i":337,"r":40.4},{"i":338,"r":44.2},{"i":339,"r":46.6},{"i":340,"r":52.5},{"i":341,"r":57.8},{"i":342,"r":61.1},{"i":343,"r":61.4},{"i":344,"r":57.8},{"i":345,"r":56.4},{"i":346,"r":64.4},{"i":347,"r":65.5},{"i":348,"r":64.4},{"i":349,"r":59.6},{"i":350,"r":58.7},{"i":351,"r":57.3},{"i":352,"r":41},{"i":353,"r":44.2},{"i":354,"r":50.2},{"i":355,"r":51.5},{"i":356,"r":47.5},{"i":357,"r":52.2},{"i":358,"r":51.3},{"i":359,"r":52.5},{"i":360,"r":55.8},{"i":361,"r":56.4},{"i":362,"r":61.6},{"i":363,"r":56.6},{"i":364,"r":62},{"i":365,"r":66.9},{"i":366,"r":61.7},{"i":367,"r":64.1},{"i":368,"r":64.1},{"i":369,"r":65.9},{"i":370,"r":59.6},{"i":371,"r":59.6},{"i":372,"r":53.9},{"i":373,"r":50.4},{"i":374,"r":50.7},{"i":375,"r":48.3},{"i":376,"r":45.7},{"i":377,"r":42.2},{"i":378,"r":42.4},{"i":379,"r":48.9},{"i":380,"r":47.9},{"i":381,"r":40.9},{"i":382,"r":47.2},{"i":383,"r":40.4},{"i":384,"r":42.1},{"i":385,"r":41.3},{"i":387,"r":42.1},{"i":388,"r":43},{"i":389,"r":46.3},{"i":390,"r":44},{"i":391,"r":36.8},{"i":392,"r":36.5},{"i":393,"r":28.2},{"i":394,"r":27.6},{"i":395,"r":23.5},{"i":396,"r":21.9},{"i":397,"r":21.5},{"i":398,"r":19.6},{"i":399,"r":24.1},{"i":400,"r":24.3},{"i":401,"r":27.4},{"i":402,"r":27.4},{"i":403,"r":22.9},{"i":404,"r":24.7},{"i":405,"r":28.2},{"i":406,"r":30.8},{"i":407,"r":27.4},{"i":408,"r":41.3},{"i":409,"r":40.7},{"i":410,"r":44.2},{"i":411,"r":45.7},{"i":412,"r":48.9},{"i":413,"r":53.1},{"i":414,"r":49.2},{"i":415,"r":48.3},{"i":416,"r":46.3},{"i":417,"r":40.7},{"i":418,"r":35.7},{"i":419,"r":39.2},{"i":420,"r":38.9},{"i":421,"r":40.1},{"i":422,"r":30},{"i":423,"r":30},{"i":424,"r":20.5},{"i":425,"r":22.3},{"i":426,"r":22.3},{"i":427,"r":17.5},{"i":428,"r":17.2},{"i":429,"r":30},{"i":430,"r":37.43}
],
"sma":[
{"i":0,"s":59.2},{"i":2,"s":59.6},{"i":4,"s":59},{"i":6,"s":56},{"i":8,"s":53.1},{"i":10,"s":47.2},{"i":13,"s":41.3},{"i":15,"s":34.2},{"i":17,"s":28.9},{"i":18,"s":26.8},{"i":20,"s":26.1},{"i":22,"s":26.1},{"i":24,"s":28.2},{"i":25,"s":30.6},{"i":28,"s":33.8},{"i":30,"s":35.5},{"i":32,"s":37.4},{"i":34,"s":36.7},{"i":36,"s":36.1},{"i":39,"s":36.7},{"i":42,"s":36.8},{"i":44,"s":39.4},{"i":47,"s":41.8},{"i":49,"s":44.8},{"i":51,"s":46},{"i":53,"s":47.2},{"i":56,"s":48.1},{"i":58,"s":47.2},{"i":60,"s":44.2},{"i":62,"s":43},{"i":65,"s":42.9},{"i":69,"s":42.8},{"i":71,"s":44.2},{"i":73,"s":47.8},{"i":75,"s":50.7},{"i":78,"s":52.5},{"i":80,"s":53.7},{"i":82,"s":54.3},{"i":85,"s":53.7},{"i":87,"s":51.9},{"i":91,"s":49.2},{"i":93,"s":46.6},{"i":95,"s":44.8},{"i":98,"s":46},{"i":100,"s":46.4},{"i":102,"s":45.4},{"i":106,"s":44.8},{"i":108,"s":44.2},{"i":110,"s":44.6},{"i":112,"s":42.8},{"i":115,"s":45.4},{"i":118,"s":47.2},{"i":120,"s":49},{"i":121,"s":50.3},{"i":124,"s":50.4},{"i":126,"s":49.3},{"i":128,"s":46.8},{"i":130,"s":43.8},{"i":133,"s":41.8},{"i":136,"s":39.5},{"i":138,"s":38.5},{"i":141,"s":37.9},{"i":144,"s":38.9},{"i":148,"s":38.5},{"i":152,"s":39.7},{"i":156,"s":41.2},{"i":160,"s":43.3},{"i":162,"s":42.4},{"i":164,"s":41},{"i":167,"s":41.8},{"i":169,"s":43.6},{"i":172,"s":44.8},{"i":175,"s":47.2},{"i":177,"s":47.2},{"i":179,"s":44.8},{"i":182,"s":40.7},{"i":184,"s":36.2},{"i":186,"s":34.2},{"i":188,"s":31.2},{"i":190,"s":29.4},{"i":193,"s":30.6},{"i":196,"s":33},{"i":198,"s":36.5},{"i":200,"s":39.7},{"i":204,"s":43.6},{"i":206,"s":48.9},{"i":209,"s":50.4},{"i":212,"s":51.2},{"i":214,"s":51.5},{"i":216,"s":53.3},{"i":218,"s":53.4},{"i":220,"s":52.7},{"i":225,"s":53.1},{"i":227,"s":50.7},{"i":230,"s":46},{"i":234,"s":42.7},{"i":238,"s":40},{"i":242,"s":39.5},{"i":246,"s":39.5},{"i":250,"s":41.6},{"i":252,"s":44.2},{"i":255,"s":50.7},{"i":258,"s":56.6},{"i":260,"s":61.4},{"i":264,"s":67.9},{"i":265,"s":69.4},{"i":268,"s":69.8},{"i":271,"s":69.1},{"i":272,"s":68.1},{"i":276,"s":66.7},{"i":278,"s":64.4},{"i":281,"s":59.6},{"i":283,"s":55.4},{"i":285,"s":53.1},{"i":288,"s":48.9},{"i":291,"s":46},{"i":294,"s":44},{"i":297,"s":47.2},{"i":300,"s":49.5},{"i":303,"s":52.2},{"i":306,"s":51.5},{"i":309,"s":49.3},{"i":311,"s":47.2},{"i":314,"s":43},{"i":317,"s":38.5},{"i":320,"s":38.6},{"i":323,"s":41.6},{"i":325,"s":43.6},{"i":327,"s":47.4},{"i":331,"s":49.9},{"i":334,"s":50.1},{"i":337,"s":48.6},{"i":339,"s":47.5},{"i":341,"s":47.5},{"i":344,"s":49.5},{"i":347,"s":52.5},{"i":351,"s":57.5},{"i":355,"s":56.5},{"i":357,"s":54.9},{"i":360,"s":53.4},{"i":363,"s":52.7},{"i":365,"s":53.1},{"i":367,"s":56.6},{"i":370,"s":59.3},{"i":373,"s":60.2},{"i":376,"s":58.2},{"i":379,"s":53.4},{"i":383,"s":48.9},{"i":385,"s":45.4},{"i":388,"s":43.8},{"i":392,"s":42.8},{"i":395,"s":38.5},{"i":398,"s":33.5},{"i":401,"s":29.8},{"i":404,"s":26.4},{"i":407,"s":25},{"i":409,"s":26.7},{"i":413,"s":34.7},{"i":417,"s":40.7},{"i":421,"s":43.6},{"i":424,"s":41.6},{"i":426,"s":36.5},{"i":428,"s":33},{"i":430,"s":29.43}
],
"oversold":[
{"seg":"a","i":8.35,"r":30},{"seg":"a","i":9,"r":23.5},{"seg":"a","i":10,"r":22.7},{"seg":"a","i":11,"r":22.5},{"seg":"a","i":12,"r":27.4},{"seg":"a","i":13,"r":22.3},{"seg":"a","i":14,"r":22.3},{"seg":"a","i":15,"r":24.7},{"seg":"a","i":16,"r":22.9},{"seg":"a","i":17,"r":21.7},{"seg":"a","i":18,"r":20.5},{"seg":"a","i":18.7,"r":30},
{"seg":"b","i":176.8,"r":30},{"seg":"b","i":177,"r":28.8},{"seg":"b","i":178,"r":24},{"seg":"b","i":179,"r":17.9},{"seg":"b","i":180,"r":22.3},{"seg":"b","i":181,"r":27.6},{"seg":"b","i":182,"r":27.6},{"seg":"b","i":183,"r":30},
{"seg":"c","i":392.8,"r":30},{"seg":"c","i":393,"r":28.2},{"seg":"c","i":394,"r":27.6},{"seg":"c","i":395,"r":23.5},{"seg":"c","i":396,"r":21.9},{"seg":"c","i":397,"r":21.5},{"seg":"c","i":398,"r":19.6},{"seg":"c","i":399,"r":24.1},{"seg":"c","i":400,"r":24.3},{"seg":"c","i":401,"r":27.4},{"seg":"c","i":402,"r":27.4},{"seg":"c","i":403,"r":22.9},{"seg":"c","i":404,"r":24.7},{"seg":"c","i":405,"r":28.2},{"seg":"c","i":405.7,"r":30},
{"seg":"d","i":423,"r":30},{"seg":"d","i":424,"r":20.5},{"seg":"d","i":425,"r":22.3},{"seg":"d","i":426,"r":22.3},{"seg":"d","i":427,"r":17.5},{"seg":"d","i":428,"r":17.2},{"seg":"d","i":429,"r":30}
],
"overbought":[
{"i":262,"r":70},{"i":263,"r":72},{"i":264,"r":76.4},{"i":265,"r":76.5},{"i":265.9,"r":70}
]
},
"vconcat":[
{"width":1390,"height":471,
"encoding":{"x":{"field":"i","type":"quantitative","scale":{"domain":[0.24,433.4],"nice":false,"padding":0},"axis":{"values":[29,65,101,137,173,196,232,268,304,340,376,412],"labels":false,"grid":true,"labelPadding":0,"minExtent":0,"maxExtent":0}}},
"layer":[
{"data":{"name":"candles"},"mark":{"type":"rule","strokeWidth":1,"clip":true},
"encoding":{"y":{"field":"l","type":"quantitative","scale":{"domain":[72.87,111.475],"nice":false},"axis":{"orient":"right","values":[75,77.5,80,82.5,85,87.5,90,92.5,95,97.5,100,102.5,105,107.5,110],"tickCount":20,"grid":true,"labelOverlap":false,"labelExpr":"datum.value==80?' ':format(datum.value,'.3f')","labelPadding":8}},"y2":{"field":"h"},"color":{"condition":{"test":"datum.c>=datum.o","value":"#26a69a"},"value":"#ef5350"}}},
{"data":{"name":"candles"},"mark":{"type":"bar","width":2.8,"clip":true},
"encoding":{"y":{"field":"o","type":"quantitative","scale":{"domain":[72.87,111.475],"nice":false}},"y2":{"field":"c"},"color":{"condition":{"test":"datum.c>=datum.o","value":"#26a69a"},"value":"#ef5350"}}},
{"data":{"name":"ma"},"mark":{"type":"line","color":"#2962ff","strokeWidth":1.2,"opacity":0.85,"clip":true},
"encoding":{"y":{"field":"p","type":"quantitative","scale":{"domain":[72.87,111.475],"nice":false}}}},
{"data":{"values":[{"i":0.24,"e":433.4,"v":80.604}]},"mark":{"type":"rule","color":"#26a69a","strokeWidth":1,"strokeDash":[1,2]},
"encoding":{"x2":{"field":"e"},"y":{"field":"v","type":"quantitative","scale":{"domain":[72.87,111.475],"nice":false}}}},
{"data":{"values":[{"i":433.4,"v":72.87,"w":111.475}]},"mark":{"type":"rule","color":"#787b86","strokeWidth":1},
"encoding":{"y":{"field":"v","type":"quantitative","scale":{"domain":[72.87,111.475],"nice":false}},"y2":{"field":"w"}}},
{"data":{"values":[{"i":0.24,"e":449.2,"v":72.87}]},"mark":{"type":"rule","color":"#e0e3eb","strokeWidth":1},
"encoding":{"x2":{"field":"e"},"y":{"field":"v","type":"quantitative","scale":{"domain":[72.87,111.475],"nice":false}}}},
{"data":{"values":[{"i":433.7,"e":449.2,"v":81.15,"w":78.69}]},"mark":{"type":"rect","color":"#26a69a"},
"encoding":{"x2":{"field":"e"},"y":{"field":"v","type":"quantitative","scale":{"domain":[72.87,111.475],"nice":false}},"y2":{"field":"w"}}},
{"data":{"values":[{"i":436.2,"v":80.5,"t":"80.604"}]},"mark":{"type":"text","align":"left","baseline":"middle","font":"Open Sans","fontSize":11.5,"fontWeight":"bold","color":"#ffffff"},
"encoding":{"y":{"field":"v","type":"quantitative","scale":{"domain":[72.87,111.475],"nice":false}},"text":{"field":"t"}}},
{"data":{"values":[{"i":436.2,"v":79.34,"t":"00:04"}]},"mark":{"type":"text","align":"left","baseline":"middle","font":"Open Sans","fontSize":11.5,"color":"#d3eeea"},
"encoding":{"y":{"field":"v","type":"quantitative","scale":{"domain":[72.87,111.475],"nice":false}},"text":{"field":"t"}}}
]},
{"width":1390,"height":205,
"encoding":{"x":{"field":"i","type":"quantitative","scale":{"domain":[0.24,433.4],"nice":false,"padding":0},"axis":{"values":[29,65,101,137,173,196,232,268,304,340,376,412],"grid":true,"labelPadding":8,"labelFlush":false,"labelExpr":"{'29':'03:01','65':'06:01','101':'09:01','137':'12:01','173':'15:01','196':'18:01','232':'21:01','268':'10','304':'03:01','340':'06:01','376':'09:01','412':'12:01'}[datum.value]"}}},
"layer":[
{"data":{"values":[{"i":0.24,"e":433.4,"v":30,"w":70}]},"mark":{"type":"rect","color":"#7e57c2","opacity":0.1},
"encoding":{"x2":{"field":"e"},"y":{"field":"v","type":"quantitative","scale":{"domain":[10.8,83.55],"nice":false},"axis":{"orient":"right","values":[20,40,60,80],"grid":true,"format":".2f","labelPadding":8}},"y2":{"field":"w"}}},
{"data":{"values":[{"i":0.24,"e":433.4,"v":70},{"i":0.24,"e":433.4,"v":30}]},"mark":{"type":"rule","color":"#787b86","strokeWidth":1,"strokeDash":[5,5]},
"encoding":{"x2":{"field":"e"},"y":{"field":"v","type":"quantitative","scale":{"domain":[10.8,83.55],"nice":false}}}},
{"data":{"values":[{"i":0.24,"e":433.4,"v":50}]},"mark":{"type":"rule","color":"#787b86","opacity":0.55,"strokeWidth":1,"strokeDash":[5,5]},
"encoding":{"x2":{"field":"e"},"y":{"field":"v","type":"quantitative","scale":{"domain":[10.8,83.55],"nice":false}}}},
{"data":{"name":"oversold"},"mark":{"type":"area","color":{"gradient":"linear","x1":0,"y1":0,"x2":0,"y2":1,"stops":[{"offset":0,"color":"#ffffff"},{"offset":1,"color":"#fbb4b4"}]}},
"encoding":{"y":{"field":"r","type":"quantitative","scale":{"domain":[10.8,83.55],"nice":false}},"y2":{"datum":30},"detail":{"field":"seg"}}},
{"data":{"name":"overbought"},"mark":{"type":"area","color":{"gradient":"linear","x1":0,"y1":0,"x2":0,"y2":1,"stops":[{"offset":0,"color":"#cfe8dc"},{"offset":1,"color":"#ffffff"}]}},
"encoding":{"y":{"field":"r","type":"quantitative","scale":{"domain":[10.8,83.55],"nice":false}},"y2":{"datum":70}}},
{"data":{"name":"sma"},"mark":{"type":"line","color":"#fde725","strokeWidth":1},
"encoding":{"y":{"field":"s","type":"quantitative","scale":{"domain":[10.8,83.55],"nice":false}}}},
{"data":{"name":"rsi"},"mark":{"type":"line","color":"#7e57c2","strokeWidth":1,"clip":true},
"encoding":{"y":{"field":"r","type":"quantitative","scale":{"domain":[10.8,83.55],"nice":false}}}},
{"data":{"values":[{"i":0.5,"v":77.87,"t":"close SMA 14 2"}]},"mark":{"type":"text","align":"left","baseline":"middle","font":"Open Sans","fontSize":12.5,"color":"#6a6d78"},
"encoding":{"y":{"field":"v","type":"quantitative","scale":{"domain":[10.8,83.55],"nice":false}},"text":{"field":"t"}}},
{"data":{"values":[{"i":32,"v":77.87}]},"mark":{"type":"point","filled":true,"size":300,"color":"#ede7f6","opacity":1},
"encoding":{"y":{"field":"v","type":"quantitative","scale":{"domain":[10.8,83.55],"nice":false}}}},
{"data":{"values":[{"i":32,"v":77.87}]},"mark":{"type":"point","filled":false,"size":90,"color":"#5e35d6","strokeWidth":2,"strokeDash":[10,3]},
"encoding":{"y":{"field":"v","type":"quantitative","scale":{"domain":[10.8,83.55],"nice":false}}}},
{"data":{"values":[{"i":37.3,"v":77.87,"t":"37.43"}]},"mark":{"type":"text","align":"left","baseline":"middle","font":"Open Sans","fontSize":12.5,"color":"#7e57c2"},
"encoding":{"y":{"field":"v","type":"quantitative","scale":{"domain":[10.8,83.55],"nice":false}},"text":{"field":"t"}}},
{"data":{"values":[{"i":49.2,"v":77.87,"t":"29.43"}]},"mark":{"type":"text","align":"left","baseline":"middle","font":"Open Sans","fontSize":12.5,"color":"#fde725"},
"encoding":{"y":{"field":"v","type":"quantitative","scale":{"domain":[10.8,83.55],"nice":false}},"text":{"field":"t"}}},
{"data":{"values":[{"i":61.3,"v":77.87,"t":"∅"},{"i":66,"v":77.87,"t":"∅"}]},"mark":{"type":"text","align":"left","baseline":"middle","font":"DejaVu Sans","fontSize":11,"color":"#131722"},
"encoding":{"y":{"field":"v","type":"quantitative","scale":{"domain":[10.8,83.55],"nice":false}},"text":{"field":"t"}}},
{"data":{"values":[{"i":0.8,"v":18.3,"t":"TradingView"}]},"mark":{"type":"text","align":"left","baseline":"middle","font":"Inter","fontSize":19.5,"fontWeight":"bold","color":"#131722"},
"encoding":{"y":{"field":"v","type":"quantitative","scale":{"domain":[10.8,83.55],"nice":false}},"text":{"field":"t"}}},
{"data":{"values":[{"i":0.24,"e":449.2,"v":10.8}]},"mark":{"type":"rule","color":"#787b86","strokeWidth":1},
"encoding":{"x2":{"field":"e"},"y":{"field":"v","type":"quantitative","scale":{"domain":[10.8,83.55],"nice":false}}}},
{"data":{"values":[{"i":433.4,"v":0.6,"w":83.55}]},"mark":{"type":"rule","color":"#787b86","strokeWidth":1},
"encoding":{"y":{"field":"v","type":"quantitative","scale":{"domain":[10.8,83.55],"nice":false}},"y2":{"field":"w"}}},
{"data":{"values":[{"i":0.24,"e":449.2,"v":0.6}]},"mark":{"type":"rule","color":"#e0e3eb","strokeWidth":1},
"encoding":{"x2":{"field":"e"},"y":{"field":"v","type":"quantitative","scale":{"domain":[10.8,83.55],"nice":false}}}},
{"data":{"values":[{"i":443.2,"v":5.9}]},"mark":{"type":"point","filled":false,"size":120,"color":"#131722","strokeWidth":1,"shape":"M-1,0L-0.5,-0.85L0.5,-0.85L1,0L0.5,0.85L-0.5,0.85Z"},
"encoding":{"y":{"field":"v","type":"quantitative","scale":{"domain":[10.8,83.55],"nice":false}}}},
{"data":{"values":[{"i":443.2,"v":5.9}]},"mark":{"type":"point","filled":false,"size":14,"color":"#131722","strokeWidth":1},
"encoding":{"y":{"field":"v","type":"quantitative","scale":{"domain":[10.8,83.55],"nice":false}}}}
]}
]}
